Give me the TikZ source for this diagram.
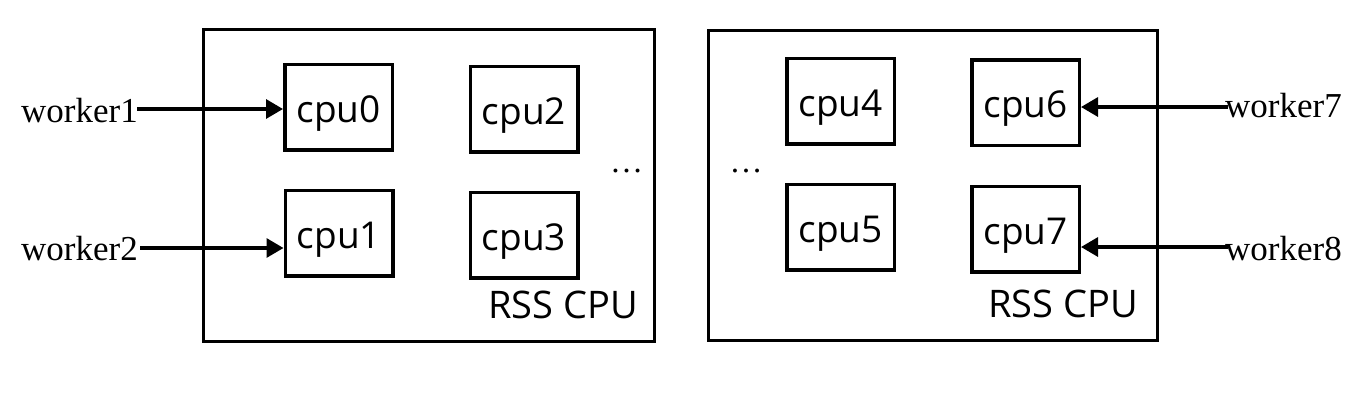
\documentclass[tikz,border=0pt]{standalone}
\usepackage{fontspec}
\setmainfont{Liberation Serif}
\newfontfamily\cpufont{Open Sans}
\usetikzlibrary{arrows.meta}
\tikzset{
  cpubox/.style={draw=black, line width=3.5pt, minimum width=107.5pt, minimum height=85.5pt, inner sep=0pt},
  cputxt/.style={font=\cpufont\fontsize{37}{40}\selectfont, inner sep=0pt, anchor=base},
  rsstxt/.style={font=\cpufont\fontsize{38}{40}\selectfont, inner sep=0pt, anchor=base east},
  worker/.style={font=\fontsize{35}{38}\selectfont, inner sep=0pt},
  dotstxt/.style={font=\fontsize{33}{38}\selectfont, inner sep=0pt, anchor=base},
  arr/.style={line width=3.2pt, -{Triangle[length=17pt,width=19pt]}}
}
\begin{document}
\begin{tikzpicture}[x=1pt,y=-1pt]
\useasboundingbox (0,0) rectangle (1370,400);
% outer boxes
\draw[line width=3.5pt] (203.5,29.5) rectangle (654.5,341.5);
\draw[line width=3.5pt] (708.5,30.5) rectangle (1157.5,340.5);
% cpu boxes
\node[cpubox] (c0) at (338.5,107) {};
\node[cpubox] (c2) at (524,109) {};
\node[cpubox] (c1) at (339,233) {};
\node[cpubox] (c3) at (524,235) {};
\node[cpubox] (c4) at (840.5,101) {};
\node[cpubox] (c6) at (1025.5,102.5) {};
\node[cpubox] (c5) at (840.5,227) {};
\node[cpubox] (c7) at (1025.5,229) {};
\foreach \n in {0,...,7}{
  \node[cputxt] (t\n) at ([yshift=-15pt]c\n.center) {cpu\n};
}
% labels
\node[rsstxt] (rss1) at (638,318) {RSS CPU};
\node[rsstxt] (rss2) at (1138,317) {RSS CPU};
\node[dotstxt] (d1) at (626.5,172) {…};
\node[dotstxt] (d2) at (746,172) {…};
% workers
\node[worker, anchor=base west] (w1) at (21,122) {worker1};
\node[worker, anchor=base west] (w2) at (21,260) {worker2};
\node[worker, anchor=base west] (w7) at (1225,117) {worker7};
\node[worker, anchor=base west] (w8) at (1225,260) {worker8};
% arrow start points
\coordinate (a1) at (137,109);
\coordinate (a2) at (140,248);
\coordinate (a7) at (1228,107);
\coordinate (a8) at (1228,247);
\draw[arr] (a1) -- (a1 -| c0.west);
\draw[arr] (a2) -- (a2 -| c1.west);
\draw[arr] (a7) -- (a7 -| c6.east);
\draw[arr] (a8) -- (a8 -| c7.east);
\end{tikzpicture}
\end{document}
